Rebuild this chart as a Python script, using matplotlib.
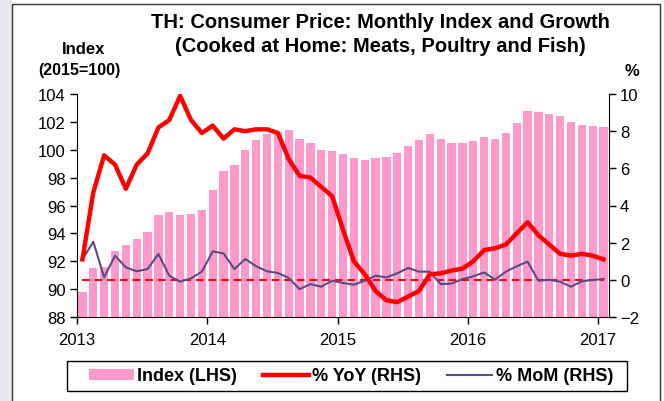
"""TH consumer price chart: monthly index (bars, LHS) with YoY / MoM growth (lines, RHS)."""
import matplotlib
matplotlib.use("Agg")
import matplotlib.pyplot as plt
from matplotlib.patches import Rectangle, Patch
from matplotlib.lines import Line2D
import numpy as np

plt.rcParams["font.family"] = ["Liberation Sans", "DejaVu Sans"]

# Jan 2013 .. Jan 2017, monthly
YEARS = ["2013", "2014", "2015", "2016", "2017"]

index_2015 = [
    89.8, 91.5, 91.6, 92.7, 93.2, 93.6, 94.1, 95.3, 95.5, 95.3, 95.4, 95.7,
    97.1, 98.5, 98.9, 100.0, 100.7, 101.1, 101.3, 101.4, 100.8, 100.5, 100.0, 99.9,
    99.7, 99.4, 99.3, 99.4, 99.5, 99.8, 100.3, 100.7, 101.1, 100.8, 100.5, 100.5,
    100.6, 100.9, 100.8, 101.2, 101.9, 102.8, 102.7, 102.6, 102.4, 102.0, 101.8, 101.7,
    101.6,
]

yoy = [
    1.1, 4.7, 6.7, 6.2, 4.9, 6.2, 6.8, 8.2, 8.6, 9.9, 8.6, 7.9,
    8.3, 7.6, 8.1, 8.0, 8.1, 8.1, 7.9, 6.5, 5.6, 5.5, 5.0, 4.5,
    2.7, 1.0, 0.3, -0.6, -1.1, -1.2, -0.9, -0.6, 0.3, 0.35, 0.5, 0.6,
    1.0, 1.6, 1.7, 1.9, 2.5, 3.1, 2.4, 1.9, 1.4, 1.3, 1.4, 1.3,
    1.1,
]

mom = [
    1.1, 2.05, 0.13, 1.3, 0.67, 0.46, 0.58, 1.39, 0.22, -0.1, 0.08, 0.44,
    1.53, 1.42, 0.58, 1.12, 0.73, 0.46, 0.37, 0.1, -0.5, -0.23, -0.37, -0.05,
    -0.17, -0.26, -0.05, 0.22, 0.13, 0.35, 0.64, 0.44, 0.44, -0.23, -0.2, 0.04,
    0.19, 0.4, 0.01, 0.44, 0.73, 0.98, -0.05, 0.0, -0.1, -0.37, -0.08, -0.01,
    0.04,
]

BAR_COLOR = "#ff99cc"
YOY_COLOR = "#ff0000"
MOM_COLOR = "#5b4a80"

W, H = 664, 402


def fx(px):
    return px / W


def fy(py):
    return 1 - py / H


def main():
    fig = plt.figure(figsize=(W / 100, H / 100), dpi=100)

    # outer frame + lavender strip on the left
    fig.patches.append(Rectangle((0, 0), fx(12), 1, transform=fig.transFigure,
                                 facecolor="#e8e8f2", edgecolor="none", zorder=-10))
    fig.patches.append(Rectangle((fx(12), -0.05), fx(648), 1.05 - 5 / H,
                                 transform=fig.transFigure, facecolor="white",
                                 edgecolor="#333333", linewidth=1.0, zorder=-10))

    ax = fig.add_axes([fx(77), fy(318), fx(532), 223 / H])
    ax.set_facecolor("none")
    ax2 = ax.twinx()

    n = len(index_2015)
    x = np.arange(n) + 0.5
    ax.bar(x, index_2015, width=0.76, color=BAR_COLOR, zorder=1)
    ax.set_ylim(88, 104)
    ax.set_yticks(np.arange(88, 105, 2))
    ax.set_xlim(0, n)
    ax.set_xticks(np.arange(0, n, 12))
    ax.set_xticklabels(YEARS)

    ax2.plot([x[0], x[-1]], [0, 0], color=YOY_COLOR, linewidth=1.4,
             linestyle=(0, (4, 2.5)))
    ax2.plot(x, mom, color=MOM_COLOR, linewidth=1.5)
    ax2.plot(x, yoy, color=YOY_COLOR, linewidth=3.2, solid_joinstyle="round")
    ax2.set_ylim(-2, 10)
    ax2.set_yticks(np.arange(-2, 11, 2))

    for a in (ax, ax2):
        a.spines["top"].set_visible(False)
        a.tick_params(direction="out", length=5, width=1, labelsize=12, pad=3)
    ax2.spines["left"].set_visible(False)
    ax2.spines["bottom"].set_visible(False)
    ax.spines["right"].set_visible(False)
    ax.tick_params(axis="x", pad=6)

    fig.text(fx(0.5 * (148 + 613)), fy(22),
             "TH: Consumer Price: Monthly Index and Growth",
             ha="center", va="center", fontsize=14.5, fontweight="bold")
    fig.text(fx(0.5 * (163 + 597)), fy(46),
             "(Cooked at Home: Meats, Poultry and Fish)",
             ha="center", va="center", fontsize=14.5, fontweight="bold")
    fig.text(fx(84), fy(50), "Index", ha="center", va="center",
             fontsize=12, fontweight="bold")
    fig.text(fx(79), fy(71), "(2015=100)", ha="center", va="center",
             fontsize=11.5, fontweight="bold")
    fig.text(fx(632), fy(71), "%", ha="center", va="center",
             fontsize=12, fontweight="bold")

    # legend: box drawn separately so its padding matches the original
    fig.patches.append(Rectangle((fx(67), fy(392)), fx(560), 30 / H,
                                 transform=fig.transFigure, facecolor="white",
                                 edgecolor="black", linewidth=1.0, zorder=-5))
    handles = [
        Patch(facecolor=BAR_COLOR, edgecolor="none"),
        Line2D([], [], color=YOY_COLOR, linewidth=3.2),
        Line2D([], [], color=MOM_COLOR, linewidth=1.5),
    ]
    labels = ["Index (LHS)", "% YoY (RHS)", "% MoM (RHS)"]
    fig.legend(handles, labels, loc="center", ncol=3,
               bbox_to_anchor=(fx(351), fy(377)), frameon=False,
               prop={"weight": "bold", "size": 13},
               handlelength=2.5, handleheight=0.55, handletextpad=0.2,
               columnspacing=1.45, borderpad=0.2)

    fig.savefig("out.png", dpi=100)
    plt.close(fig)


if __name__ == "__main__":
    main()
